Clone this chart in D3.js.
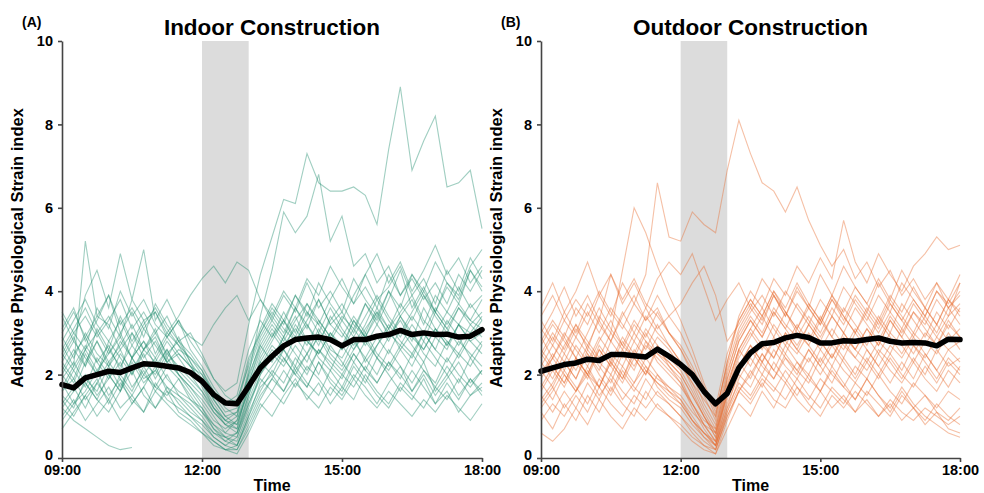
<!DOCTYPE html>
<html lang="en">
<head>
<meta charset="utf-8">
<script src="https://cdn.jsdelivr.net/npm/d3@7"></script>
<style>
  body { margin: 0; background: #fff; }
  svg text { font-family: "Liberation Sans", Arial, sans-serif; font-weight: bold; fill: #000; }
</style>
</head>
<body>
<div id="chart"></div>
<script>
// sample times (every 15 min)
var times = ["09:00","09:15","09:30","09:45","10:00","10:15","10:30","10:45","11:00","11:15","11:30","11:45",
             "12:00","12:15","12:30","12:45","13:00","13:15","13:30","13:45","14:00","14:15","14:30","14:45",
             "15:00","15:15","15:30","15:45","16:00","16:15","16:30","16:45","17:00","17:15","17:30","17:45","18:00"]
var xTicks = ["09:00","12:00","15:00","18:00"]
var yTicks = [0, 2, 4, 6, 8, 10]
var breakStart = "12:00", breakEnd = "13:00"

// indoor workers
var indoorMean = [1.76,1.68,1.92,2.0,2.08,2.05,2.16,2.26,2.24,2.2,2.16,2.05,1.84,1.52,1.32,1.30,1.72,2.16,2.44,2.69,2.84,2.88,2.9,2.84,2.69,2.84,2.84,2.92,2.96,3.06,2.96,3.0,2.96,2.97,2.9,2.92,3.08]
var indoorWorkers = [
  [2.4,2.9,2.2,3.1,2.6,3.4,2.8,3.3,2.5,3.0,2.7,2.2,1.8,1.2,0.9,1.1,1.9,2.8,3.3,2.9,3.6,3.1,3.8,3.2,3.5,3.0,3.7,3.3,4.0,3.4,3.8,3.2,3.9,3.5,4.1,3.6,3.9],
  [1.5,1.2,1.9,1.6,2.2,1.7,2.4,1.9,2.1,2.6,2.0,1.6,1.2,0.7,0.4,0.6,1.4,2.1,2.6,2.3,2.9,2.5,3.1,2.6,2.4,2.9,2.3,2.7,3.2,2.8,2.5,3.0,2.6,3.3,2.9,2.4,2.8],
  [3.1,3.6,2.8,3.3,3.9,3.0,3.5,2.9,3.7,3.2,2.8,3.0,2.5,1.9,1.5,1.3,2.4,3.0,3.6,3.2,3.9,3.4,4.2,3.7,3.3,3.9,4.4,3.8,4.1,4.6,3.9,4.3,3.7,4.5,4.0,4.8,4.3],
  [1.0,1.4,0.9,1.3,1.7,1.2,1.5,1.1,1.8,1.4,1.2,1.0,0.8,0.5,0.3,0.2,0.8,1.4,1.9,1.6,2.1,1.7,2.3,1.8,1.5,2.0,1.7,1.3,1.8,2.2,1.6,2.0,1.5,1.9,2.3,1.8,2.1],
  [2.0,2.5,2.9,2.3,2.7,2.1,3.0,2.6,2.3,2.8,2.4,2.0,1.6,1.1,0.8,0.7,1.5,2.4,2.9,3.3,2.8,3.2,2.7,3.4,3.0,2.6,3.1,3.5,2.9,3.3,2.8,3.6,3.1,2.7,3.2,3.0,3.4],
  [2.7,2.2,5.2,3.4,3.2,2.6,3.0,2.4,2.8,2.3,2.0,1.7,1.4,1.0,0.6,0.9,1.8,2.7,2.3,2.9,3.4,2.8,2.5,3.0,2.7,3.3,2.9,2.4,2.9,3.4,3.0,2.6,3.1,2.8,2.5,3.0,2.7],
  [1.8,1.3,1.6,2.1,1.5,1.9,1.3,1.7,2.2,1.6,1.4,1.1,0.9,0.6,0.5,0.3,1.0,1.8,2.2,2.6,2.1,2.5,2.0,2.7,2.3,1.9,2.4,2.0,2.6,2.2,1.8,2.3,1.6,2.0,1.5,1.9,1.6],
  [2.2,1.8,2.5,2.0,2.8,2.4,2.0,2.6,2.9,2.3,2.5,2.2,2.0,1.6,1.3,1.4,2.2,3.0,3.5,3.1,2.8,3.3,3.8,3.2,2.9,3.4,3.0,3.6,3.1,3.5,3.9,3.3,3.0,3.5,3.2,3.7,3.3],
  [1.2,0.9,0.7,0.5,0.3,0.2,0.25,null,null,null,null,null,null,null,null,null,null,null,null,null,null,null,null,null,null,null,null,null,null,null,null,null,null,null,null,null,null],
  [2.6,3.1,3.6,3.0,3.4,2.9,3.8,3.3,3.5,3.0,3.4,3.9,4.3,4.6,4.2,4.7,4.5,3.8,3.3,3.9,3.5,4.2,3.6,4.0,3.5,4.3,3.8,3.4,4.0,3.6,4.4,3.9,3.5,4.1,3.7,4.5,4.0],
  [1.3,1.7,1.2,1.8,1.4,2.0,1.6,2.2,1.7,1.5,1.9,1.4,1.1,0.7,0.5,0.4,1.1,1.7,2.0,1.6,2.2,1.8,1.5,2.1,1.7,2.3,1.9,1.5,1.2,1.7,1.4,1.9,1.3,1.6,1.1,1.5,1.8],
  [3.0,3.5,2.9,3.4,3.9,3.2,3.6,3.1,3.5,2.9,3.3,2.8,2.4,1.9,1.6,1.8,3.2,4.4,5.3,6.2,6.1,7.3,6.6,6.4,6.4,6.5,6.3,5.6,7.4,8.9,6.9,7.6,8.2,6.5,6.6,6.9,5.5],
  [2.3,1.9,2.6,2.1,2.5,3.0,2.4,2.8,2.2,2.6,2.1,1.8,1.5,1.1,0.8,1.0,2.0,3.4,4.5,5.9,5.4,5.8,6.8,5.2,5.8,4.6,4.9,4.2,4.6,3.9,4.4,4.0,4.7,4.2,3.8,4.5,4.1],
  [1.6,2.1,1.7,2.4,2.0,1.6,2.3,1.8,2.1,1.7,1.5,1.2,0.9,0.5,0.3,0.5,1.3,2.0,2.5,2.2,2.7,2.3,3.0,2.5,2.2,2.8,2.4,2.9,2.5,3.1,2.7,2.3,2.9,2.6,3.2,2.8,2.5],
  [0.7,1.1,1.5,1.0,1.4,0.9,1.3,1.7,1.2,1.6,1.1,0.9,0.6,0.3,0.2,0.3,0.9,1.5,1.9,2.4,2.0,1.7,2.3,1.9,1.6,2.2,1.8,2.4,2.0,1.6,2.1,1.7,1.3,1.8,1.4,1.9,1.5],
  [2.5,3.0,2.6,3.6,3.1,4.0,3.4,3.8,3.2,2.9,3.3,2.6,2.2,1.7,1.3,1.5,2.6,3.3,2.9,3.5,3.0,3.7,3.3,2.9,3.4,3.1,3.7,3.2,3.8,4.5,3.6,4.1,3.5,4.2,3.9,4.6,5.0],
  [1.9,2.3,1.8,1.4,2.0,1.6,2.4,2.0,1.7,2.2,1.9,1.5,1.1,0.8,0.6,0.5,1.2,2.0,2.4,2.9,2.5,2.1,2.6,2.3,2.0,2.5,2.1,2.7,3.1,2.6,2.2,2.8,2.4,2.0,2.5,2.2,2.7],
  [3.4,2.8,3.9,4.5,3.6,4.9,3.8,5.0,3.3,3.8,3.2,2.9,2.7,3.2,3.6,3.9,3.3,3.8,3.4,4.0,3.6,4.3,3.9,4.6,4.1,3.7,4.4,4.9,4.2,4.7,4.0,4.5,5.1,4.4,4.8,4.2,4.6],
  [1.4,1.0,1.5,1.9,1.3,1.8,1.4,1.1,1.6,1.3,1.0,0.8,0.6,0.4,0.2,0.1,0.6,1.2,1.6,1.3,1.8,1.5,1.2,1.7,1.4,1.9,1.5,1.2,1.6,1.3,1.0,1.4,1.1,1.5,1.2,0.9,1.3],
  [2.1,2.6,2.2,2.8,2.3,2.7,3.2,2.6,3.0,2.5,2.8,2.3,1.9,1.4,1.0,0.8,1.7,2.5,3.0,2.6,3.2,2.8,2.5,3.0,2.6,3.3,2.9,3.4,3.0,2.7,3.2,2.8,3.5,3.1,2.7,3.2,2.9],
  [1.7,2.2,2.7,2.3,1.9,2.5,2.1,2.6,3.1,2.4,2.0,1.7,1.3,0.9,0.7,0.9,1.6,2.3,2.0,2.6,2.2,2.9,2.4,2.1,2.7,2.3,2.8,2.4,2.1,2.6,3.0,2.5,2.2,2.8,2.4,2.9,3.3],
  [2.9,2.4,3.0,2.5,2.2,2.8,2.4,3.1,2.7,2.3,2.6,2.4,2.1,1.6,1.2,1.0,2.1,2.9,3.4,3.0,3.6,3.2,2.8,3.3,3.7,3.2,2.9,3.5,3.1,3.7,3.3,3.9,3.4,3.0,3.6,3.3,3.8],
  [2.0,1.6,2.3,2.8,2.2,2.6,2.0,2.5,1.9,2.4,2.9,2.3,1.7,1.2,0.8,0.6,1.5,2.3,2.8,3.3,2.9,3.5,3.0,3.6,3.1,2.7,3.2,3.8,3.3,2.9,3.4,3.0,3.6,3.2,3.7,3.3,3.1],
  [1.2,1.6,2.0,1.5,1.9,2.3,1.7,2.1,1.6,2.0,1.5,1.3,1.0,0.6,0.4,0.3,1.0,1.6,2.1,1.8,2.4,2.0,2.6,2.2,1.9,2.5,2.1,1.8,2.3,1.9,2.5,2.1,1.7,2.2,1.8,2.4,2.0],
  [3.5,3.0,3.4,2.9,3.3,3.8,3.1,3.5,3.0,3.4,2.8,2.5,2.1,1.5,1.1,1.2,2.3,3.1,3.7,3.3,3.9,3.5,3.2,3.8,4.3,3.7,4.1,3.6,4.4,3.9,4.3,3.8,4.2,3.7,4.4,4.0,4.5],
  [2.3,2.8,2.4,2.0,2.6,2.2,2.7,2.3,2.0,2.5,2.2,1.9,1.6,1.2,0.9,0.8,1.6,2.2,2.7,2.4,2.0,2.5,2.9,2.4,2.1,2.6,3.0,2.5,2.2,2.7,2.4,3.0,2.6,2.3,2.8,2.5,2.2],
  [0.9,1.3,1.8,1.4,1.1,1.6,2.1,1.5,1.2,1.7,1.3,1.0,0.7,0.4,0.2,0.2,0.7,1.3,1.0,1.5,1.9,1.4,1.8,1.3,1.7,1.4,2.0,1.6,1.3,1.8,1.5,1.2,1.7,1.4,1.9,1.5,1.7],
  [2.8,3.3,3.8,3.2,2.8,3.3,2.7,3.2,3.6,3.1,2.7,2.4,2.0,1.4,1.0,1.1,2.0,2.7,3.2,2.8,3.3,3.7,3.2,2.8,3.3,2.9,3.4,3.9,3.4,3.0,3.5,4.0,3.5,3.1,3.6,3.2,3.5],
  [1.6,1.9,1.4,1.8,2.3,1.9,1.5,2.0,2.4,1.9,1.6,1.4,1.2,0.8,0.5,0.6,1.3,1.9,1.6,2.1,1.7,2.2,1.9,1.5,2.0,1.7,2.2,1.8,2.3,2.0,1.6,2.1,1.8,2.4,2.0,1.7,2.1],
  [2.5,2.1,2.6,3.0,2.5,2.9,2.4,2.8,2.4,2.9,2.5,2.2,1.8,1.3,0.9,0.7,1.8,2.6,3.1,2.7,3.1,2.7,3.3,2.9,2.6,3.1,2.7,3.2,2.8,3.4,2.9,2.6,3.1,2.7,3.2,2.8,3.0]
]

// outdoor workers
var outdoorMean = [2.08,2.16,2.24,2.28,2.37,2.34,2.48,2.48,2.45,2.42,2.61,2.44,2.24,2.0,1.6,1.3,1.55,2.16,2.52,2.74,2.77,2.88,2.94,2.89,2.76,2.76,2.81,2.8,2.84,2.88,2.8,2.76,2.77,2.76,2.69,2.85,2.84]
var outdoorWorkers = [
  [2.8,3.3,2.9,3.6,3.2,3.9,3.4,4.2,3.7,4.4,6.6,5.3,5.2,5.9,5.6,5.4,6.9,8.1,7.3,6.6,6.4,5.9,6.5,5.7,5.1,4.6,5.0,4.3,4.7,4.1,4.5,3.9,4.3,3.8,4.2,3.6,4.0],
  [2.5,2.1,2.7,3.2,2.6,3.4,3.0,4.5,6.0,5.4,4.6,3.9,3.3,2.6,1.8,1.1,2.2,3.1,3.6,3.2,3.9,3.4,4.1,3.6,3.2,3.8,3.3,3.9,3.5,4.2,3.7,3.3,3.8,3.4,4.0,3.6,3.9],
  [1.6,2.1,1.7,2.3,1.9,2.6,2.2,1.8,2.4,2.0,2.7,2.2,1.8,1.2,0.7,0.3,1.4,2.2,2.7,2.3,2.9,2.5,3.1,2.7,2.3,2.8,2.4,3.0,2.6,2.2,2.7,2.4,2.9,2.5,2.1,2.6,2.3],
  [3.3,2.8,3.5,3.0,3.7,3.2,2.8,3.4,3.9,3.3,3.6,3.0,2.6,2.0,1.3,0.8,2.0,3.0,3.5,3.9,3.4,4.0,3.6,3.2,3.8,3.4,4.1,3.7,3.3,3.9,3.5,4.2,3.8,3.4,4.0,3.7,4.2],
  [1.1,0.7,1.3,0.9,1.5,1.1,1.7,1.3,1.0,1.6,1.2,1.0,0.8,0.5,0.3,0.1,0.9,1.6,2.1,1.7,2.3,1.9,1.5,2.0,1.6,2.2,1.8,1.4,1.9,1.5,1.2,1.7,1.3,1.0,0.8,0.6,0.5],
  [2.2,2.7,2.3,2.9,2.5,2.1,2.8,2.4,3.0,2.6,3.2,2.7,2.3,1.7,1.1,0.6,1.8,2.6,3.1,2.7,2.4,3.0,2.6,3.2,2.8,2.4,2.9,2.6,3.1,2.7,3.3,2.9,2.5,3.0,2.7,3.2,2.9],
  [1.8,1.4,2.0,1.6,2.2,1.7,2.4,2.0,1.6,2.1,1.8,1.5,1.3,0.9,0.6,0.4,1.3,2.0,1.7,2.3,1.9,2.5,2.1,1.8,2.4,2.0,1.7,2.2,1.9,2.5,2.1,1.8,2.3,1.9,1.6,2.1,1.8],
  [3.0,3.5,4.1,3.4,3.9,3.3,4.4,3.7,4.2,3.6,4.3,4.7,4.4,4.9,4.1,3.3,3.8,4.2,3.6,4.3,3.9,3.4,4.0,3.6,4.4,3.9,4.6,4.1,3.7,4.3,3.8,4.5,4.0,3.6,4.2,3.8,4.4],
  [0.6,0.4,0.7,1.2,0.8,1.4,1.0,0.7,1.2,0.9,1.3,1.0,0.7,0.4,0.2,0.1,0.7,1.3,1.0,1.6,1.2,1.8,1.4,1.1,1.6,1.2,1.5,1.1,1.4,1.0,1.3,0.9,1.2,0.8,1.1,0.7,0.6],
  [2.6,2.2,1.8,2.4,2.0,2.7,2.3,2.9,2.5,3.1,2.7,2.4,2.1,1.6,1.0,0.5,1.6,2.4,2.9,3.4,2.9,3.5,3.0,2.7,3.3,2.9,3.6,3.2,2.8,3.4,3.0,3.7,3.3,2.9,3.5,3.1,3.6],
  [1.4,1.8,2.3,1.9,2.5,2.0,1.6,2.2,1.8,2.4,2.0,1.7,1.5,1.1,0.8,0.6,1.5,2.3,1.9,2.5,2.1,2.7,2.3,2.0,2.6,2.2,2.8,2.4,2.1,2.6,2.3,1.9,2.4,2.0,2.6,2.2,2.4],
  [2.0,2.5,2.1,2.7,2.3,2.9,2.5,2.2,2.8,2.4,2.9,2.6,2.2,1.8,1.4,1.0,2.3,3.4,4.0,3.6,4.3,3.9,4.6,4.2,4.8,4.3,5.7,4.7,4.2,4.9,4.4,4.0,4.6,4.9,5.3,5.0,5.1],
  [2.9,2.4,3.0,2.6,2.2,2.8,3.3,2.7,2.4,3.0,2.5,2.2,1.9,1.3,0.8,0.4,1.5,2.2,2.7,2.3,2.8,2.4,2.1,2.6,2.2,1.8,2.4,2.0,2.6,2.2,1.8,2.3,1.9,2.5,2.1,1.7,2.2],
  [3.6,4.2,3.5,4.0,4.7,3.9,4.4,3.8,4.3,3.7,3.4,3.0,2.7,2.2,1.6,1.2,2.5,3.3,3.8,3.4,4.0,3.5,3.1,3.7,3.3,3.9,3.4,3.0,3.6,3.2,3.8,3.4,3.0,3.6,3.2,3.8,3.5],
  [1.3,1.7,1.2,1.6,2.0,1.5,1.9,1.4,1.8,2.2,1.7,1.4,1.2,0.8,0.5,0.3,1.2,1.8,1.5,2.0,1.7,1.4,1.9,1.5,1.2,1.7,1.4,1.1,1.6,1.3,1.0,1.5,1.2,0.9,1.3,1.0,0.8],
  [2.4,2.9,2.5,3.1,2.7,3.3,2.8,3.5,3.0,3.6,3.1,3.4,3.7,4.2,4.6,3.9,2.8,3.2,3.7,3.3,3.9,3.5,3.1,3.6,3.2,3.8,3.4,3.0,3.5,3.1,3.7,3.3,2.9,3.4,3.0,3.6,3.2],
  [1.9,2.4,2.0,1.6,2.1,1.7,2.3,1.9,2.5,2.1,1.8,1.6,1.4,1.0,0.6,0.3,1.2,2.1,2.6,2.2,1.9,2.4,2.0,2.6,2.2,2.7,2.3,1.9,2.4,2.0,2.5,2.1,2.7,2.3,1.9,2.4,2.1],
  [2.1,1.7,2.3,1.9,2.6,2.2,1.8,2.5,2.1,2.8,2.3,2.0,1.7,1.3,0.9,0.7,1.9,2.8,3.3,2.9,3.5,3.1,2.7,3.2,2.8,3.4,3.0,2.6,3.1,2.7,3.3,2.9,3.5,3.1,2.7,3.3,2.9],
  [1.5,1.1,1.6,1.2,1.8,1.4,2.0,1.6,1.3,1.9,1.5,1.3,1.0,0.7,0.4,0.2,1.0,1.6,2.0,2.5,2.1,1.8,2.3,1.9,1.6,2.1,1.7,1.4,1.9,1.5,1.1,1.6,1.2,1.5,1.1,0.9,1.2],
  [2.7,3.2,2.8,2.4,3.0,3.6,3.1,2.7,3.3,2.9,3.5,3.0,2.6,2.1,1.5,0.9,2.1,2.9,3.4,3.0,3.6,3.2,2.9,3.4,3.0,3.6,3.2,3.8,3.4,3.0,3.5,3.1,3.7,3.3,2.9,3.4,4.2],
  [2.3,1.9,2.5,2.1,2.7,2.3,2.0,2.6,2.2,2.7,2.4,2.1,1.8,1.3,0.8,0.4,1.6,2.5,3.0,2.6,3.2,2.8,2.5,3.0,2.6,3.1,2.7,2.4,2.9,2.5,3.0,2.7,2.3,2.8,2.5,3.0,2.6],
  [1.7,2.2,1.8,2.4,2.0,1.7,2.3,1.9,2.6,2.2,1.9,1.7,1.4,0.9,0.5,0.2,1.1,1.9,2.4,2.0,2.6,2.2,1.9,2.4,2.0,2.5,2.1,1.8,2.3,1.9,2.4,2.0,1.7,2.2,1.8,2.3,2.0],
  [3.1,2.7,3.3,2.9,3.5,3.0,3.6,3.2,2.8,3.4,3.0,2.7,2.3,1.8,1.2,0.7,1.9,2.8,3.3,2.9,3.5,3.1,3.7,3.3,2.9,3.4,3.0,3.6,3.2,2.8,3.4,3.0,3.5,3.2,3.8,3.4,3.7],
  [1.2,1.6,2.1,1.7,1.3,1.9,1.5,2.1,1.7,1.4,2.0,1.6,1.3,0.9,0.6,0.3,1.1,1.7,1.4,1.9,1.6,2.1,1.7,1.4,1.9,1.6,1.3,1.8,1.5,2.0,1.6,1.3,1.8,1.5,1.2,1.6,1.4],
  [2.5,3.0,2.6,3.2,2.8,2.4,3.0,2.6,3.2,2.8,2.5,2.3,2.0,1.5,1.0,0.6,1.7,2.6,2.2,2.8,2.4,3.0,2.6,2.3,2.8,2.4,3.0,2.6,2.3,2.8,2.5,3.1,2.7,2.4,2.9,2.6,2.8],
  [2.0,2.4,2.9,2.4,2.0,2.6,2.2,2.8,2.4,2.0,2.6,2.3,2.0,1.5,1.0,0.5,1.7,2.6,3.1,3.6,3.1,2.7,3.2,2.8,3.4,2.9,2.6,3.1,2.7,3.3,2.9,2.5,3.0,2.7,3.2,2.8,3.1],
  [0.9,1.3,1.0,1.5,1.1,1.7,1.3,1.0,1.5,1.2,1.6,1.3,1.0,0.6,0.3,0.2,1.0,1.6,1.3,1.8,1.4,1.2,1.7,1.3,1.0,1.5,1.2,1.6,1.3,1.0,1.4,1.1,0.9,1.2,1.0,0.8,1.0],
  [3.4,3.9,3.3,3.8,3.4,4.0,3.5,3.1,3.7,3.3,3.9,3.4,3.0,2.4,1.7,1.0,2.3,3.3,3.8,3.4,4.0,3.6,4.2,3.7,3.3,3.9,3.5,4.1,3.7,3.3,3.9,3.5,4.1,3.6,3.2,3.8,3.4]
]

var width = 984, height = 493
var parseT = d3.timeParse("%H:%M")

var svg = d3.select("#chart").append("svg")
    .attr("width", width)
    .attr("height", height)

function panel(left, right, letter, title, workers, mean, color) {
    var top = 41, bottom = 458
    var x = d3.scaleTime()
        .domain([parseT("09:00"), parseT("18:00")])
        .range([left, right])
    var y = d3.scaleLinear()
        .domain([0, 10])
        .range([bottom, top])

    var g = svg.append("g")

    // lunch break band
    g.append("rect")
        .attr("x", x(parseT(breakStart)))
        .attr("y", top)
        .attr("width", x(parseT(breakEnd)) - x(parseT(breakStart)))
        .attr("height", bottom - top)
        .attr("fill", "#dcdcdc")

    var line = d3.line()
        .defined(function(d) { return d != null })
        .x(function(d, i) { return x(parseT(times[i])) })
        .y(function(d) { return y(d) })

    g.selectAll(".worker")
        .data(workers)
        .enter()
        .append("path")
        .attr("class", "worker")
        .attr("d", line)
        .attr("fill", "none")
        .attr("stroke", color)
        .attr("stroke-width", 1.1)
        .attr("stroke-opacity", 0.42)

    g.append("path")
        .datum(mean)
        .attr("d", line)
        .attr("fill", "none")
        .attr("stroke", "#000")
        .attr("stroke-width", 5.5)
        .attr("stroke-linejoin", "round")
        .attr("stroke-linecap", "round")

    // axes
    var yAx = g.append("g")
        .attr("transform", "translate(" + left + ",0)")
        .call(d3.axisLeft(y).tickValues(yTicks).tickSize(4).tickPadding(5).tickSizeOuter(0))
    // lift the "0" a little so it clears the time labels
    yAx.selectAll(".tick text").filter(function(d) { return d === 0 }).attr("dy", "0.1em")
    g.append("g")
        .attr("transform", "translate(0," + bottom + ")")
        .call(d3.axisBottom(x).tickValues(xTicks.map(parseT)).tickFormat(d3.timeFormat("%H:%M"))
            .tickSize(4).tickPadding(3).tickSizeOuter(0))
    g.selectAll(".domain, .tick line").attr("stroke", "#444").attr("stroke-width", 1.6)
    g.selectAll(".tick text").style("font-size", "14.5px").attr("fill", "#000")

    g.append("text")
        .attr("x", (left + right) / 2)
        .attr("y", 491)
        .attr("text-anchor", "middle")
        .style("font-size", "16px")
        .text("Time")

    g.append("text")
        .attr("transform", "translate(" + (left - 39) + "," + 248 + ") rotate(-90)")
        .attr("text-anchor", "middle")
        .style("font-size", "16.5px")
        .text("Adaptive Physiological Strain index")

    g.append("text")
        .attr("x", (left + right) / 2)
        .attr("y", 35)
        .attr("text-anchor", "middle")
        .style("font-size", "22.5px")
        .text(title)

    g.append("text")
        .attr("x", left - 40)
        .attr("y", 27)
        .style("font-size", "14px")
        .text(letter)
}

panel(62, 482, "(A)", "Indoor Construction", indoorWorkers, indoorMean, "#1d8a6b")
panel(541, 960, "(B)", "Outdoor Construction", outdoorWorkers, outdoorMean, "#e8682a")
</script>
</body>
</html>
